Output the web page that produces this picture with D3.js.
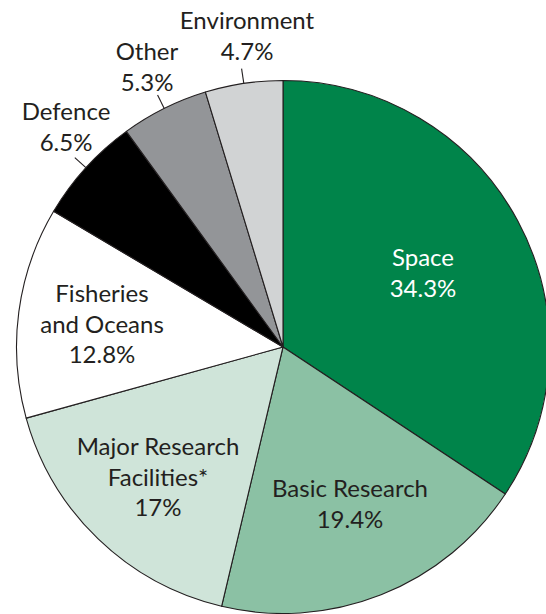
<!DOCTYPE html>
<html>
<head>
<meta charset="utf-8">
<script src="https://cdn.jsdelivr.net/npm/d3@7"></script>
<style>
  body { margin: 0; background: #fff; }
  svg { display: block; }
  .lbl { font-family: Lato, 'Open Sans', sans-serif; font-size: 24px; text-anchor: middle; }
</style>
</head>
<body>
<div id="chart"></div>
<script>
// shares of spending, clockwise from 12 o'clock
const categories = ['Space', 'Basic Research', 'Major Research Facilities*', 'Fisheries and Oceans', 'Defence', 'Other', 'Environment']
const shares = [34.3, 19.4, 17, 12.8, 6.5, 5.3, 4.7]
const shareLabels = ['34.3%', '19.4%', '17%', '12.8%', '6.5%', '5.3%', '4.7%']
const colours = ['#00844a', '#8bc1a4', '#cfe4d9', '#ffffff', '#000000', '#939598', '#d1d3d4']

// how each label is broken into lines, where its first baseline sits, and if it gets a leader
const labelLayout = [
  { lines: ['Space'], x: 423, y: 266, fill: '#fff' },
  { lines: ['Basic Research'], x: 350, y: 497 },
  { lines: ['Major Research', 'Facilities*'], x: 158, y: 455 },
  { lines: ['Fisheries', 'and Oceans'], x: 102, y: 302 },
  { lines: ['Defence'], x: 66, y: 120, leader: true },
  { lines: ['Other'], x: 147, y: 60, leader: true },
  { lines: ['Environment'], x: 247, y: 29, leader: true }
]

const width = 546
const height = 614
const cx = 283
const cy = 347
const radius = 266.5
const lineGap = 30.5

const svg = d3.select('#chart')
  .append('svg')
  .attr('width', width)
  .attr('height', height)

const g = svg.append('g')
  .attr('transform', `translate(${cx}, ${cy})`)

const data = categories.map((c, i) => ({ name: c, value: shares[i], label: shareLabels[i], colour: colours[i], layout: labelLayout[i] }))

const pie = d3.pie()
  .value(d => d.value)
  .sort(null)

const arc = d3.arc()
  .innerRadius(0)
  .outerRadius(radius)

const arcs = pie(data)

g.selectAll('path.slice')
  .data(arcs)
  .join('path')
  .attr('class', 'slice')
  .attr('d', arc)
  .attr('fill', d => d.data.colour)
  .attr('stroke', '#231f20')
  .attr('stroke-width', 1.1)
  .attr('stroke-linejoin', 'round')

// short radial ticks for the labels outside the pie
g.selectAll('line.leader')
  .data(arcs.filter(d => d.data.layout.leader))
  .join('line')
  .attr('class', 'leader')
  .each(function (d) {
    const a = (d.startAngle + d.endAngle) / 2
    d3.select(this)
      .attr('x1', Math.sin(a) * radius)
      .attr('y1', -Math.cos(a) * radius)
      .attr('x2', Math.sin(a) * (radius + 15))
      .attr('y2', -Math.cos(a) * (radius + 15))
  })
  .attr('stroke', '#231f20')
  .attr('stroke-width', 1.1)

// labels
const labels = svg.selectAll('text.lbl')
  .data(data)
  .join('text')
  .attr('class', 'lbl')
  .attr('fill', d => d.layout.fill || '#231f20')

labels.each(function (d) {
  const t = d3.select(this)
  const lines = d.layout.lines.concat([d.label])
  lines.forEach((line, i) => {
    t.append('tspan')
      .attr('x', d.layout.x)
      .attr('y', d.layout.y + i * lineGap)
      .text(line)
  })
})
</script>
</body>
</html>
